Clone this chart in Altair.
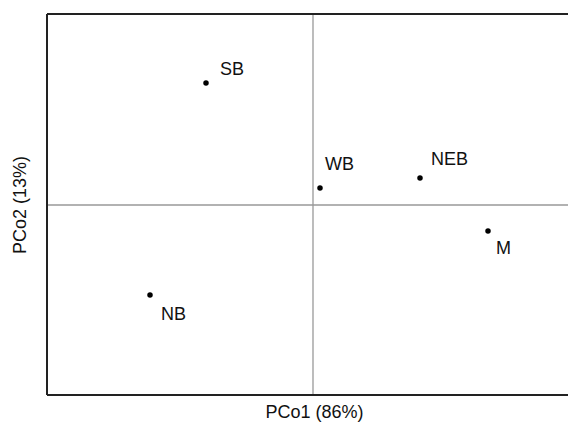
import altair as alt
import pandas as pd

# Site scores on the first two principal coordinates
sites = ["SB", "WB", "NEB", "M", "NB"]
pco1 = [-1.07, 0.07, 1.07, 1.75, -1.63]
pco2 = [1.22, 0.17, 0.27, -0.26, -0.90]
# label anchor positions (data units)
label_x = [-0.93, 0.12, 1.18, 1.83, -1.52]
label_y = [1.35, 0.40, 0.45, -0.44, -1.10]

x_domain = [-2.66, 2.55]
y_domain = [-1.90, 1.91]

W, H = 521, 381

df = pd.DataFrame({"site": sites, "x": pco1, "y": pco2, "lx": label_x, "ly": label_y})
zero = pd.DataFrame({"z": [0]})

FONT = "Liberation Sans"
FS = 18

xs = alt.Scale(domain=x_domain, nice=False, zero=False)
ys = alt.Scale(domain=y_domain, nice=False, zero=False)

xaxis = alt.Axis(title="PCo1 (86%)", labels=False, ticks=False, domain=False, grid=False,
                 titleFont=FONT, titleFontSize=FS, titleFontWeight="normal", titleColor="#111",
                 titlePadding=8, titleX=267, titleAlign="center")
yaxis = alt.Axis(title="PCo2 (13%)", labels=False, ticks=False, domain=False, grid=False,
                 titleFont=FONT, titleFontSize=FS, titleFontWeight="normal", titleColor="#111",
                 titlePadding=18)

vline = alt.Chart(zero).mark_rule(color="#999999", strokeWidth=1.3).encode(
    x=alt.X("z:Q", scale=xs, axis=xaxis))
hline = alt.Chart(zero).mark_rule(color="#999999", strokeWidth=1.3).encode(
    y=alt.Y("z:Q", scale=ys, axis=yaxis))

frame_style = dict(color="#222222", strokeWidth=2)
left_edge = alt.Chart(zero).mark_rule(**frame_style).encode(
    x=alt.value(0), y=alt.value(0), y2=alt.value(H))
top_edge = alt.Chart(zero).mark_rule(**frame_style).encode(
    x=alt.value(0), x2=alt.value(W), y=alt.value(0))
bottom_edge = alt.Chart(zero).mark_rule(**frame_style).encode(
    x=alt.value(0), x2=alt.value(W), y=alt.value(H))

pts = alt.Chart(df).mark_circle(color="black", opacity=1, size=30).encode(
    x=alt.X("x:Q", scale=xs, axis=xaxis),
    y=alt.Y("y:Q", scale=ys, axis=yaxis),
)
labels = alt.Chart(df).mark_text(align="left", baseline="middle", font=FONT, fontSize=FS,
                                 color="#111").encode(
    x=alt.X("lx:Q", scale=xs, axis=xaxis),
    y=alt.Y("ly:Q", scale=ys, axis=yaxis),
    text="site:N",
)

chart = alt.layer(vline, hline, left_edge, top_edge, bottom_edge, pts, labels).properties(
    width=W, height=H,
    autosize=alt.AutoSizeParams(type="none"),
    padding={"left": 39, "top": 6, "right": 0, "bottom": 28},
).configure_view(stroke=None)

chart.save("out.html", embed_options={"renderer": "svg", "actions": False})
